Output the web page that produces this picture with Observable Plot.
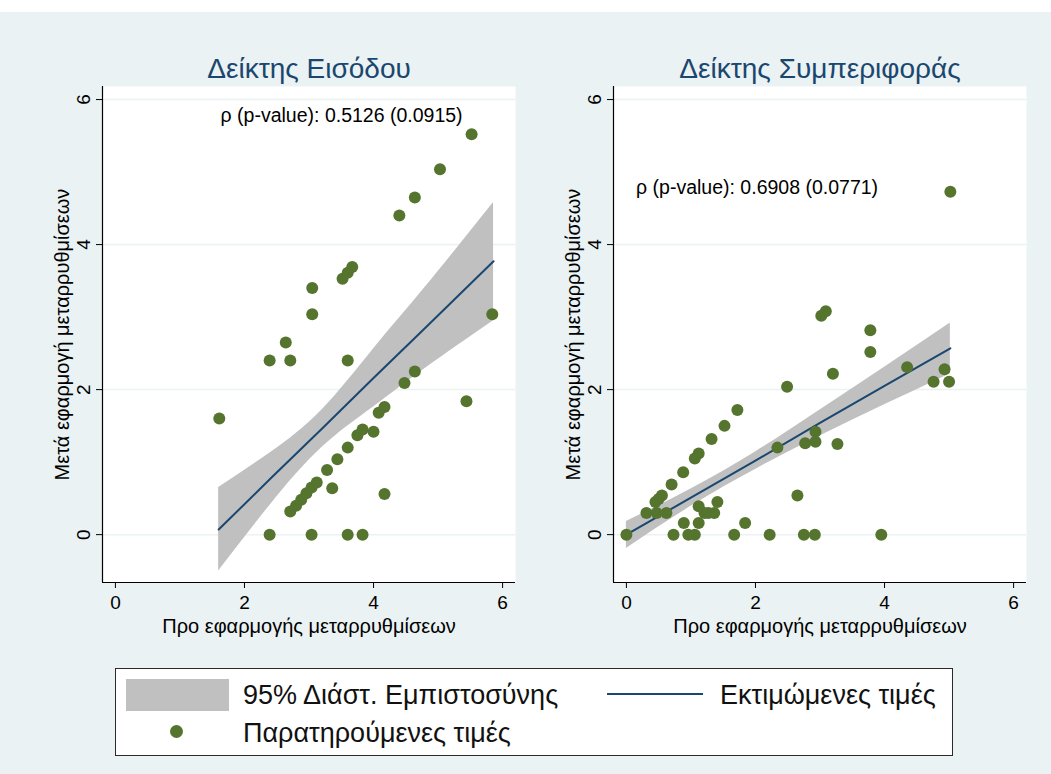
<!DOCTYPE html>
<html>
<head>
<meta charset="utf-8">
<script src="https://cdn.jsdelivr.net/npm/d3@7"></script>
<script src="https://cdn.jsdelivr.net/npm/@observablehq/plot@0.6"></script>
<style>
  html, body { margin: 0; padding: 0; background: #ffffff; }
  body { font-family: "Liberation Sans", Arial, sans-serif; }
  #root { position: relative; width: 1051px; height: 774px; overflow: hidden; background: #ffffff; }
  #bg { position: absolute; left: 0; top: 12px; width: 1051px; height: 762px; background: #eaf2f3; }
  .panel { position: absolute; top: 40px; }
  #legend { position: absolute; left: 115px; top: 668px; width: 836px; height: 86px; background: #ffffff; border: 1px solid #2b2b2b; }
  #legend .item { position: absolute; font-size: 27px; color: #111; white-space: nowrap; line-height: 1; }
</style>
</head>
<body>
<div id="root">
  <div id="bg"></div>
  <div id="left" class="panel" style="left:0px"></div>
  <div id="right" class="panel" style="left:511px"></div>
  <div id="legend"></div>
</div>
<script>
// ---- Data ----
const panelTitles = ["Δείκτης Εισόδου", "Δείκτης Συμπεριφοράς"];
const annotations = ["ρ (p-value): 0.5126 (0.0915)", "ρ (p-value): 0.6908 (0.0771)"];
const annotationX = [1.63, 0.15];
const annotationY = [5.78, 4.78];
const xTitle = "Προ εφαρμογής μεταρρυθμίσεων";
const yTitle = "Μετά εφαρμογή μεταρρυθμίσεων";
const tickValues = [0, 2, 4, 6];
const legendLabels = ["95% Διάστ. Εμπιστοσύνης", "Εκτιμώμενες τιμές", "Παρατηρούμενες τιμές"];

// Left panel: Δείκτης Εισόδου — observed points
const entryX = [5.52, 5.03, 4.64, 4.40, 3.67, 3.60, 3.52, 3.05, 3.05, 2.64, 5.84,
  2.39, 2.71, 3.60, 4.64, 4.48, 5.44, 1.61, 4.17, 4.08, 3.83, 3.75, 4.00, 3.60,
  3.44, 3.28, 3.12, 3.04, 2.96, 2.88, 2.80, 2.71, 3.36, 4.17, 2.39, 3.04, 3.60, 3.83];
const entryY = [5.52, 5.04, 4.65, 4.40, 3.69, 3.61, 3.53, 3.40, 3.04, 2.65, 3.04,
  2.40, 2.40, 2.40, 2.25, 2.09, 1.84, 1.60, 1.76, 1.68, 1.45, 1.37, 1.42, 1.20,
  1.04, 0.89, 0.72, 0.65, 0.57, 0.48, 0.40, 0.32, 0.64, 0.56, 0, 0, 0, 0];
// Left panel — fitted values and 95% band
const entryFitX  = [1.60, 2.40, 3.20, 4.00, 4.80, 5.86];
const entryFit   = [0.07, 0.77, 1.46, 2.16, 2.85, 3.77];
const entryLow   = [-0.50, 0.41, 1.20, 1.76, 2.29, 2.95];
const entryHigh  = [0.65, 1.13, 1.72, 2.56, 3.41, 4.58];

// Right panel: Δείκτης Συμπεριφοράς — observed points
const behaviourX = [5.02, 3.09, 3.02, 3.78, 3.78, 4.35, 4.93, 4.76, 5.00, 3.20, 2.49,
  1.72, 1.52, 1.32, 1.12, 1.06, 0.88, 0.70, 0.55, 0.50, 0.45, 0.31, 0.47, 0.62,
  1.12, 1.41, 1.21, 1.27, 1.36, 0.89, 1.12, 1.84, 2.65, 2.34, 2.77, 2.93, 2.93, 3.27,
  0, 0.73, 0.96, 1.06, 1.67, 2.22, 2.75, 2.92, 3.95];
const behaviourY = [4.73, 3.08, 3.02, 2.82, 2.52, 2.31, 2.28, 2.11, 2.11, 2.22, 2.04,
  1.72, 1.50, 1.32, 1.12, 1.05, 0.86, 0.69, 0.54, 0.49, 0.45, 0.30, 0.30, 0.30,
  0.39, 0.45, 0.30, 0.30, 0.30, 0.16, 0.16, 0.16, 0.54, 1.20, 1.26, 1.28, 1.42, 1.25,
  0, 0, 0, 0, 0, 0, 0, 0, 0];
// Right panel — fitted values and 95% band
const behaviourFitX = [0, 1, 2, 3, 4, 5.02];
const behaviourFit  = [0.00, 0.51, 1.02, 1.54, 2.05, 2.57];
const behaviourLow  = [-0.19, 0.39, 0.90, 1.36, 1.79, 2.22];
const behaviourHigh = [0.18, 0.63, 1.14, 1.72, 2.31, 2.92];

// ---- Styling ----
const FONT = '"Liberation Sans", Arial, sans-serif';
const BG = "#eaf2f3";
const DOT = "#55752f";
const LINE = "#1a476f";
const BAND = "#c0c0c0";
const xDomain = [-0.2, 6.2];
const yDomain = [-0.66, 6.18];

function makePanel(xs, ys, fx, fit, lo, hi, i) {
  const data = xs.map((x, k) => ({x, y: ys[k]}));
  const band = fx.map((x, k) => ({x, fit: fit[k], lo: lo[k], hi: hi[k]}));
  return Plot.plot({
    width: 520,
    height: 600,
    marginLeft: 102,
    marginRight: 5,
    marginTop: 46,
    marginBottom: 58,
    style: {background: "transparent", fontFamily: FONT, overflow: "visible"},
    x: {domain: xDomain, axis: null},
    y: {domain: yDomain, axis: null},
    marks: [
      Plot.frame({fill: "#ffffff", stroke: null}),
      Plot.ruleY(tickValues, {stroke: BG, strokeWidth: 1.5}),
      Plot.areaY(band, {x: "x", y1: "lo", y2: "hi", fill: BAND, curve: "natural"}),
      Plot.line(band, {x: "x", y: "fit", stroke: LINE, strokeWidth: 2}),
      Plot.dot(data, {x: "x", y: "y", r: 6, fill: DOT, stroke: null}),
      Plot.ruleX([xDomain[0]], {stroke: "#000", strokeWidth: 1.2}),
      Plot.ruleY([yDomain[0]], {stroke: "#000", strokeWidth: 1.2}),
      Plot.axisX({ticks: tickValues, tickSize: 6, tickPadding: 7, fontSize: 19, label: null, color: "#000", tickFormat: d => String(d)}),
      Plot.axisY({ticks: tickValues, tickSize: 6, label: null, tickFormat: () => "", color: "#000"}),
      Plot.text(tickValues, {y: d => d, text: d => String(d), frameAnchor: "left", dx: -19, rotate: -90, textAnchor: "middle", lineAnchor: "middle", fontSize: 19, fill: "#000"}),
      Plot.text([yTitle], {text: d => d, frameAnchor: "left", dx: -40, rotate: -90, textAnchor: "middle", lineAnchor: "middle", fontSize: 20, fill: "#000"}),
      Plot.text([xTitle], {text: d => d, frameAnchor: "bottom", dy: 44, textAnchor: "middle", lineAnchor: "middle", fontSize: 20, fill: "#000"}),
      Plot.text([panelTitles[i]], {text: d => d, frameAnchor: "top", dy: -17, textAnchor: "middle", lineAnchor: "middle", fontSize: 28, fill: LINE}),
      Plot.text([annotations[i]], {x: () => annotationX[i], y: () => annotationY[i], text: d => d, textAnchor: "start", lineAnchor: "middle", fontSize: 19.5, fill: "#000"})
    ]
  });
}

document.getElementById("left").appendChild(makePanel(entryX, entryY, entryFitX, entryFit, entryLow, entryHigh, 0));
document.getElementById("right").appendChild(makePanel(behaviourX, behaviourY, behaviourFitX, behaviourFit, behaviourLow, behaviourHigh, 1));

// ---- Legend ----
const leg = document.getElementById("legend");
leg.innerHTML = `
  <div style="position:absolute;left:10px;top:10px;width:103px;height:32px;background:${BAND}"></div>
  <div class="item" style="left:127px;top:13px">${legendLabels[0]}</div>
  <div style="position:absolute;left:491px;top:24px;width:96px;height:2px;background:${LINE}"></div>
  <div class="item" style="left:604px;top:13px">${legendLabels[1]}</div>
  <div style="position:absolute;left:54px;top:56px;width:13px;height:13px;border-radius:50%;background:${DOT}"></div>
  <div class="item" style="left:127px;top:51px">${legendLabels[2]}</div>
`;
</script>
</body>
</html>
